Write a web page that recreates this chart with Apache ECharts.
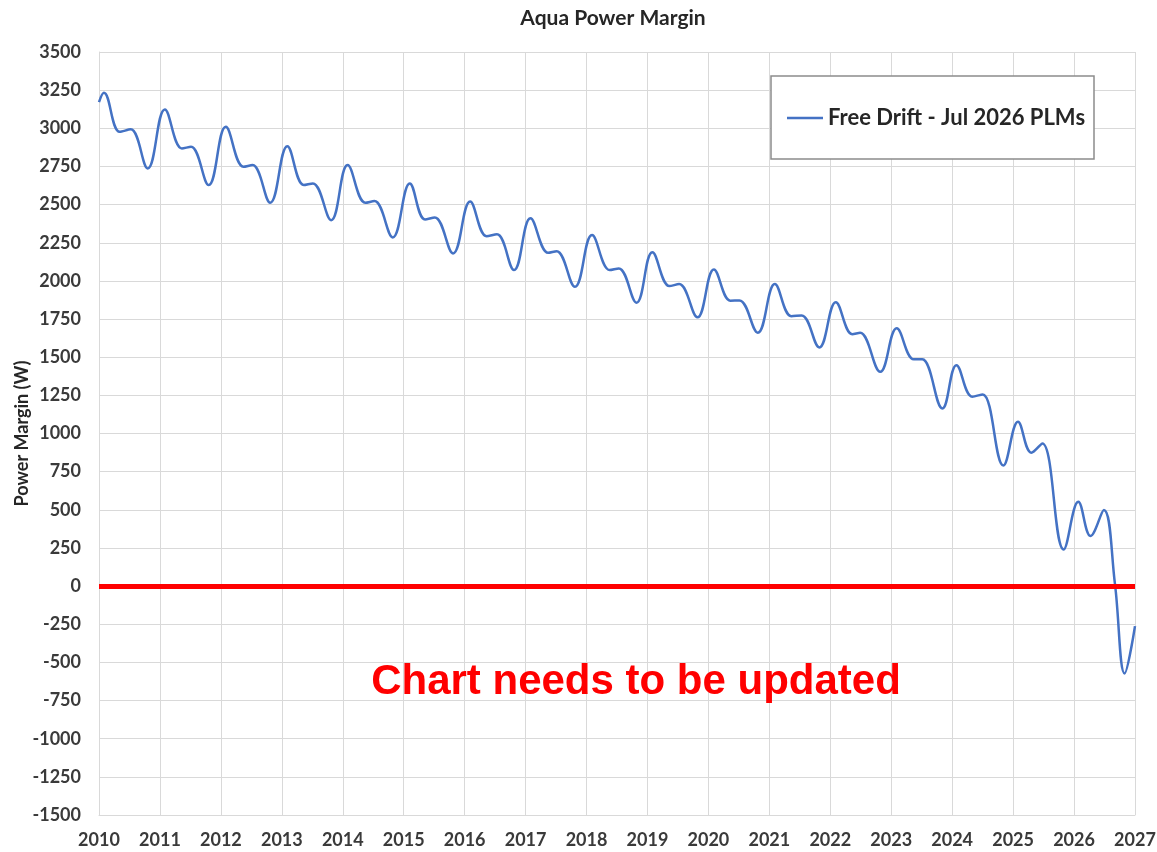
<!DOCTYPE html>
<html>
<head>
<meta charset="utf-8">
<title>Aqua Power Margin</title>
<script src="https://cdn.jsdelivr.net/npm/echarts@6/dist/echarts.min.js"></script>
<style>
  html, body { margin: 0; padding: 0; background: #fff; }
  #chart { width: 1157px; height: 852px; }
</style>
</head>
<body>
<div id="chart"></div>
<script>
/* Aqua power margin — free drift curve */

// decimal years of each key point (peak / shoulder / bump / trough per year)
const years = [
  2010.00, 2010.08, 2010.34, 2010.52, 2010.80,
  2011.08, 2011.36, 2011.51, 2011.80,
  2012.08, 2012.37, 2012.52, 2012.81,
  2013.09, 2013.36, 2013.51, 2013.81,
  2014.08, 2014.37, 2014.52, 2014.82,
  2015.10, 2015.35, 2015.51, 2015.81,
  2016.09, 2016.36, 2016.53, 2016.81,
  2017.08, 2017.37, 2017.51, 2017.81,
  2018.09, 2018.38, 2018.53, 2018.82,
  2019.08, 2019.36, 2019.52, 2019.82,
  2020.09, 2020.36, 2020.51, 2020.81,
  2021.09, 2021.36, 2021.53, 2021.82,
  2022.09, 2022.36, 2022.49, 2022.82,
  2023.09, 2023.37, 2023.51, 2023.84,
  2024.07, 2024.33, 2024.50, 2024.84,
  2025.08, 2025.30, 2025.48, 2025.83,
  2026.07, 2026.27, 2026.49, 2026.67, 2026.83, 2027.00
];

// power margin (W) at those points
const margins = [
  3172, 3233, 2977, 2993, 2737,
  3124, 2868, 2879, 2628,
  3010, 2748, 2759, 2512,
  2883, 2628, 2639, 2398,
  2759, 2512, 2523, 2285,
  2639, 2403, 2416, 2180,
  2520, 2293, 2305, 2071,
  2410, 2184, 2195, 1961,
  2300, 2071, 2082, 1857,
  2188, 1966, 1979, 1761,
  2075, 1870, 1872, 1660,
  1979, 1769, 1774, 1564,
  1860, 1651, 1660, 1404,
  1689, 1486, 1486, 1164,
  1448, 1241, 1256, 790,
  1077, 874, 935, 240,
  552, 328, 498, 18, -572, -262
];

const seriesName = "Free Drift - Jul 2026 PLMs";
const xRange = [2010, 2027];
const yRange = [-1500, 3500];

const font = "Lato, 'Open Sans', sans-serif";
const labelColor = "#3a3a3a";
const gridColor = "#d9d9d9";
const lineBlue = "#4472c4";

const chart = echarts.init(document.getElementById("chart"));

chart.setOption({
  animation: false,
  backgroundColor: "#fff",
  title: {
    text: "Aqua Power Margin",
    left: 608,
    textAlign: "center",
    top: 3,
    textStyle: { fontFamily: font, fontSize: 21, fontWeight: "bold", color: "#262626" }
  },
  grid: { left: 99, right: 22, top: 52, bottom: 37, outerBoundsMode: "none" },
  legend: {
    data: [{ name: seriesName, icon: "rect" }],
    left: 787,
    top: 107,
    padding: 0,
    itemWidth: 36,
    itemHeight: 2.5,
    itemGap: 4,
    itemStyle: { color: lineBlue },
    textStyle: { fontFamily: font, fontSize: 22, fontWeight: "bold", color: "#262626" }
  },
  xAxis: {
    type: "value",
    min: xRange[0],
    max: xRange[1],
    interval: 1,
    axisLine: { onZero: false, lineStyle: { color: gridColor, width: 1 } },
    axisTick: { show: false },
    splitLine: { show: true, lineStyle: { color: gridColor, width: 1 } },
    axisLabel: {
      margin: 16,
      fontFamily: font, fontSize: 18, fontWeight: "bold", color: labelColor,
      formatter: v => String(v)
    }
  },
  yAxis: {
    type: "value",
    min: yRange[0],
    max: yRange[1],
    interval: 250,
    name: "Power Margin (W)",
    nameLocation: "middle",
    nameGap: 68,
    nameMoveOverlap: false,
    nameTextStyle: { fontFamily: font, fontSize: 18, fontWeight: "bold", color: "#262626" },
    axisLine: { show: true, lineStyle: { color: gridColor, width: 1 } },
    axisTick: { show: false },
    splitLine: { show: true, lineStyle: { color: gridColor, width: 1 } },
    axisLabel: {
      margin: 18,
      fontFamily: font, fontSize: 18, fontWeight: "bold", color: labelColor,
      formatter: v => String(v)
    }
  },
  graphic: [
    {
      type: "rect",
      z: 3,
      shape: { x: 771, y: 76, width: 323, height: 83 },
      style: { fill: "#fff", stroke: "#8c8c8c", lineWidth: 1.5 }
    },
    {
      type: "text",
      z: 5,
      style: {
        x: 636, y: 682,
        text: "Chart needs to be updated",
        fill: "#ff0000",
        font: "bold 42px 'Liberation Sans', Arial, sans-serif",
        textAlign: "center",
        textVerticalAlign: "middle"
      }
    }
  ],
  series: [
    {
      name: seriesName,
      type: "line",
      data: years.map((y, i) => [y, margins[i]]),
      smooth: 0.4,
      symbol: "none",
      lineStyle: { color: lineBlue, width: 2.5 },
      itemStyle: { color: lineBlue },
      markLine: {
        silent: true,
        symbol: ["none", "none"],
        label: { show: false },
        lineStyle: { color: "#ff0000", width: 5, type: "solid" },
        data: [{ yAxis: 0 }]
      }
    }
  ]
});
</script>
</body>
</html>
